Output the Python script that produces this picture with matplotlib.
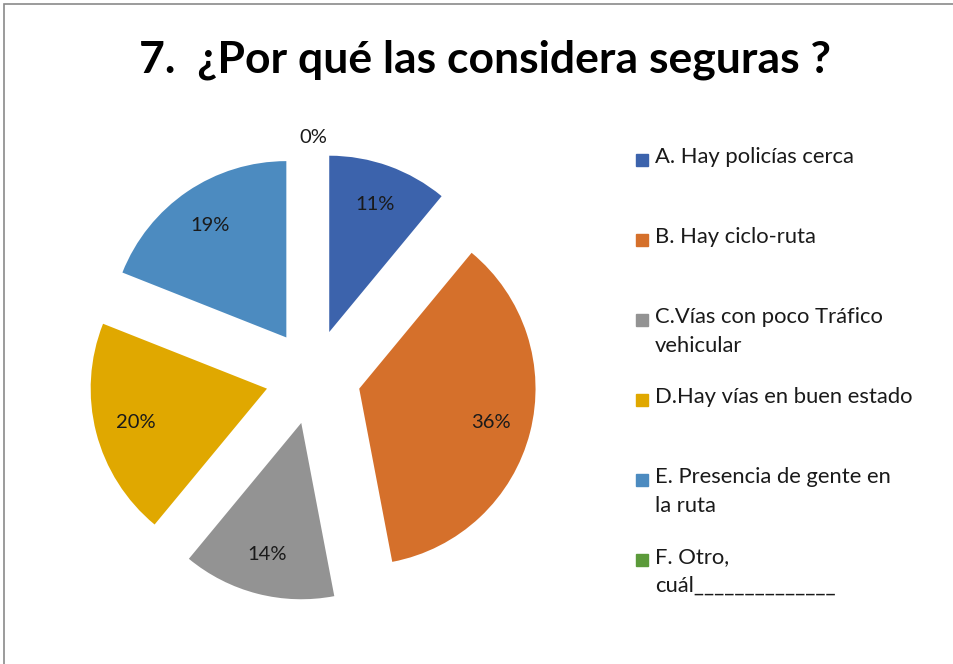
import matplotlib.pyplot as plt
from matplotlib.patches import Rectangle

# survey answers (percent)
labels = ["A. Hay policías cerca",
          "B. Hay ciclo-ruta",
          "C.Vías con poco Tráfico\nvehicular",
          "D.Hay vías en buen estado",
          "E. Presencia de gente en\nla ruta",
          "F. Otro,\ncuál______________"]
values = [11, 36, 14, 20, 19, 0]
colors = ["#3C63AC", "#D5702B", "#939393", "#E0A800", "#4C8BC0", "#5B9A3A"]

plt.rcParams['font.family'] = ['Lato', 'DejaVu Sans']

fig = plt.figure(figsize=(9.54, 6.64), dpi=100)

# outer chart frame (right/bottom edges fall outside the image)
fig.patches.append(Rectangle((0.004, -0.1), 1.2, 1.094, transform=fig.transFigure,
                             fill=False, edgecolor="#8a8a8a", linewidth=1.2))

fig.text(0.508, 0.91, "7.  ¿Por qué las considera seguras ?", ha="center", va="center",
         fontsize=32, fontweight="bold", color="black")

ax = fig.add_axes([0.0737, 0.0665, 0.509, 0.732])
wedges, texts, autotexts = ax.pie(values, colors=colors, startangle=90, counterclock=False,
                                  explode=[0.27] * len(values), autopct="%1.0f%%",
                                  pctdistance=0.77,
                                  textprops={"fontsize": 14.5, "color": "#1a1a1a"})
ax.set_xlim(-1.377, 1.377)
ax.set_ylim(-1.377, 1.377)
ax.set_aspect("equal")

# empty slice label goes outside, as in the original
for v, t in zip(values, autotexts):
    if v == 0:
        t.set_position((0, 1.36))

# legend drawn by hand so every entry starts on an even step
for i, (lab, col) in enumerate(zip(labels, colors)):
    y = 1 - (160 + 80 * i) / 664
    fig.patches.append(Rectangle((636 / 954, y - 6 / 664), 12 / 954, 12 / 664,
                                 transform=fig.transFigure, color=col))
    fig.text(655 / 954, y + 13 / 664, lab, ha="left", va="top", fontsize=15.8,
             linespacing=1.55, color="#1a1a1a")

fig.savefig("out.png", dpi=100)
